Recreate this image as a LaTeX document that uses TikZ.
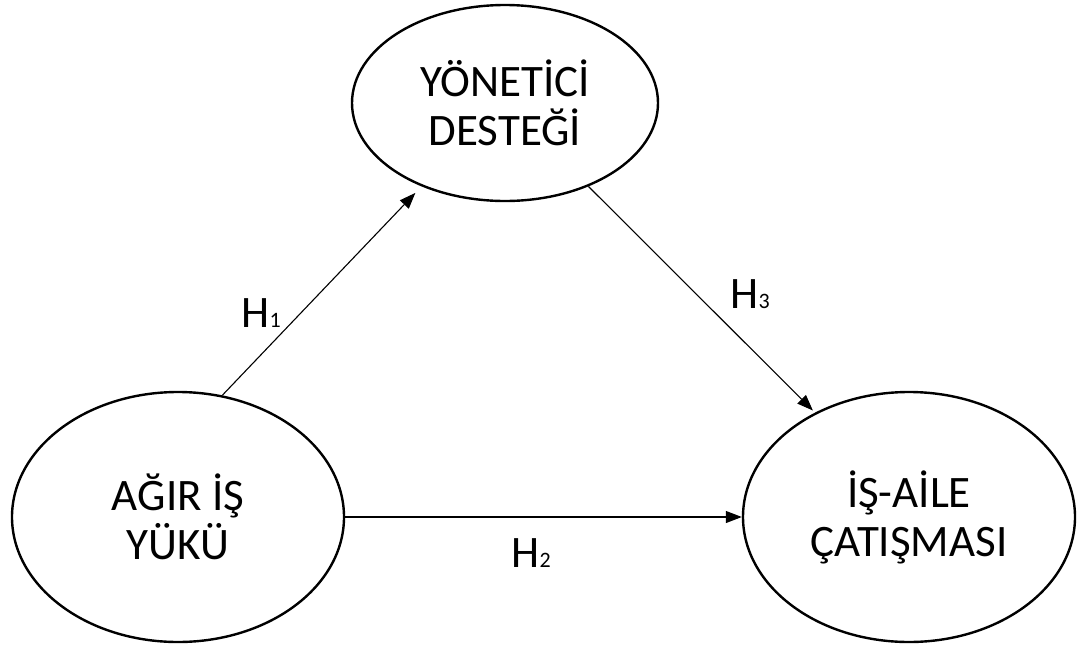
\documentclass[tikz,border=0pt]{standalone}
\usepackage{fontspec}
\setmainfont{Carlito}
\usetikzlibrary{arrows.meta, positioning, shapes.geometric}

\begin{document}
\begin{tikzpicture}[x=1pt, y=-1pt,
    construct/.style={draw, ellipse, line width=2.4pt, inner sep=0pt, align=center,
                      font=\fontsize{45}{49}\selectfont},
    path/.style={line width=1.1pt, -{Triangle[length=16pt, width=12pt]}},
    hyp/.style={anchor=base west, font=\fontsize{45}{49}\selectfont}]
  \useasboundingbox (0,0) rectangle (1084,648);

  % Constructs
  \node[construct, minimum width=306pt, minimum height=196pt] (yonetici) at (505,103) {YÖNETİCİ\\DESTEĞİ};
  \node[construct, minimum width=332pt, minimum height=250pt] (agir) at (178,517) {AĞIR İŞ\\YÜKÜ};
  \node[construct, minimum width=332pt, minimum height=250pt] (catisma) at (909,517) {İŞ-AİLE\\ÇATIŞMASI};

  % Hypothesised paths
  \draw[path, shorten >=9pt] (agir.70) -- (yonetici.225);
  \draw[path, shorten >=3pt] (yonetici.315) -- (catisma.132);
  \draw[path] (agir.east) -- (catisma.west);

  % Path labels
  \node[hyp] (h1) at (238,327) {H{\fontsize{22}{22}\selectfont 1}};
  \node[hyp] (h2) at (508,567) {H{\fontsize{22}{22}\selectfont 2}};
  \node[hyp] (h3) at (727,308) {H{\fontsize{22}{22}\selectfont 3}};
\end{tikzpicture}
\end{document}
